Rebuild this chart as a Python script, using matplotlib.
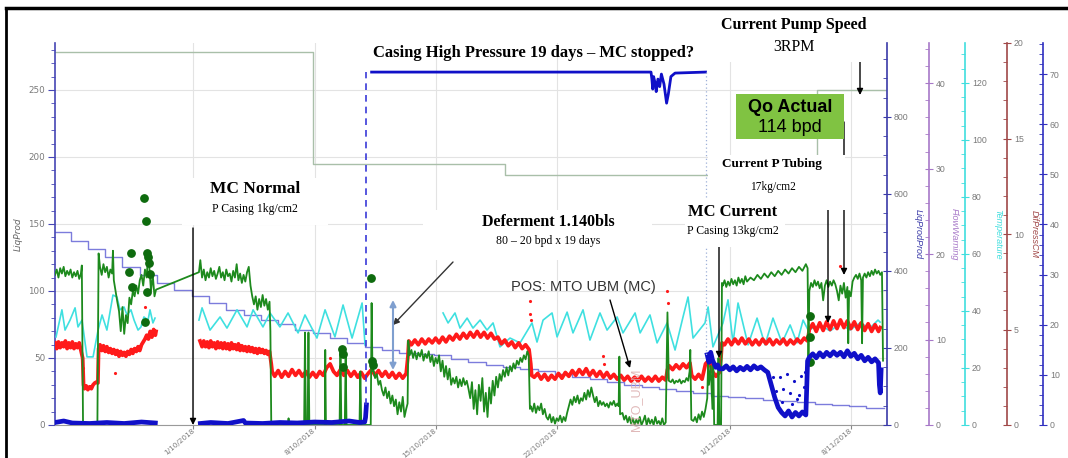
import matplotlib
matplotlib.use("Agg")
import matplotlib.pyplot as plt
from matplotlib.lines import Line2D
from matplotlib.patches import Rectangle
from matplotlib.ticker import MultipleLocator
import numpy as np
import pandas as pd

# ---- data (x = days since 23/9/2018) ----
START = pd.Timestamp("2018-09-23")
tick_dates = ["2018-10-01", "2018-10-08", "2018-10-15", "2018-10-22", "2018-11-01", "2018-11-08"]
tick_labels = ["1/10/2018", "8/10/2018", "15/10/2018", "22/10/2018", "1/11/2018", "8/11/2018"]

# LiqProd (left axis) - green
green = [(0.0,112),(0.1,116),(0.2,110),(0.3,117),(0.4,113),(0.5,118),(0.6,111),(0.7,115),(0.8,112),(0.9,116),
         (1.0,110),(1.1,114),(1.2,111),(1.3,115),(1.4,109),(1.5,113),(1.55,119),(1.62,1),(1.7,0),(2.0,0.5),(2.45,0),
         (2.52,128),(2.6,118),(2.7,112),(2.8,120),(2.9,114),(3.0,118),(3.1,110),(3.2,116),(3.3,113),(3.35,130),
         (3.4,108),(3.5,100),(3.6,92),(3.7,85),(3.8,70),(3.9,88),(4.0,68),(4.1,82),(4.2,76),(4.3,95),(4.4,90),
         (4.5,100),(4.6,96),(4.7,104),(4.8,98),(4.9,108),(5.0,112),(5.1,104),(5.2,116),(5.3,110),(5.38,128),
         (5.45,118),(5.55,100),(5.65,112),(5.75,96),(5.84,101),
         (8.32,114),(8.4,123),(8.5,110),(8.6,116),(8.7,108),(8.8,114),(8.9,110),(9.0,117),(9.1,111),(9.2,115),
         (9.3,109),(9.4,113),(9.5,118),(9.6,110),(9.7,114),(9.8,108),(9.9,116),(10.0,111),(10.1,113),(10.2,107),
         (10.3,115),(10.4,110),(10.5,120),(10.6,108),(10.7,113),(10.8,106),(10.9,112),(11.0,107),(11.1,114),
         (11.2,118),(11.3,104),(11.4,96),(11.5,90),(11.6,96),(11.7,86),(11.8,94),(11.9,88),(12.0,97),(12.1,89),
         (12.2,94),(12.3,86),(12.4,92),(12.45,70),(12.5,1),(12.8,0),(13.0,0.5),(13.45,0),(13.5,5),(13.55,0),
         (14.4,0),(14.45,69),(14.5,0),(14.6,0),(14.65,69),(14.7,0),(15.6,0),(15.62,56),(15.66,0),(16.45,0),
         (16.5,58),(16.55,0),(16.75,0),(16.8,52),(16.85,0),(17.6,0),(17.65,40),(17.7,0),(18.25,0),(18.3,91),
         (18.35,40),(18.4,41),(18.5,35),(18.6,38),(18.7,30),(18.8,33),(18.9,26),(19.0,22),(19.1,28),(19.2,20),
         (19.3,25),(19.4,16),(19.5,22),(19.6,14),(19.7,19),(19.8,8),(19.9,17),(20.0,10),(20.1,21),(20.2,6),
         (20.3,12),(20.38,16),(20.42,63),(20.5,52),(20.6,56),(20.7,50),(20.8,55),(20.9,49),(21.0,54),(21.1,51),
         (21.2,56),(21.3,48),(21.4,53),(21.5,50),(21.6,55),(21.7,47),(21.8,52),(21.9,44),(22.0,50),(22.1,46),
         (22.2,52),(22.3,40),(22.4,48),(22.5,36),(22.6,44),(22.7,34),(22.8,42),(22.9,30),(23.0,35),(23.1,31),
         (23.2,36),(23.3,28),(23.4,34),(23.5,29),(23.6,35),(23.7,30),(23.8,33),(23.9,27),(24.0,20),(24.1,32),
         (24.2,12),(24.3,26),(24.4,8),(24.5,30),(24.6,18),(24.7,35),(24.8,10),(24.9,24),(25.0,6),(25.1,28),
         (25.2,16),(25.3,33),(25.4,22),(25.5,36),(25.6,28),(25.7,38),(25.8,33),(25.9,41),(26.0,36),(26.1,43),
         (26.2,37),(26.3,44),(26.4,40),(26.5,46),(26.6,42),(26.7,48),(26.8,45),(26.9,50),(27.0,47),(27.1,52),
         (27.2,49),(27.3,55),(27.38,52),(27.45,12),(27.5,14),(27.6,10),(27.7,16),(27.8,9),(27.9,14),(28.0,11),
         (28.1,16),(28.2,8),(28.3,12),(28.4,6),(28.5,4),(28.6,8),(28.7,2),(28.8,6),(28.9,1),(29.0,5),(29.1,3),
         (29.2,7),(29.3,2),(29.4,6),(29.5,3),(29.6,9),(29.7,14),(29.8,19),(29.9,15),(30.0,21),(30.1,17),(30.2,22),
         (30.3,16),(30.4,20),(30.5,18),(30.6,24),(30.7,19),(30.8,26),(30.9,21),(31.0,28),(31.1,22),(31.2,17),
         (31.3,21),(31.4,14),(31.5,18),(31.6,15),(31.7,17),(31.8,14),(31.9,16),(32.0,13),(32.1,17),(32.2,15),
         (32.3,18),(32.4,14),(32.5,16),(32.58,14),(32.62,51),(32.66,8),(32.8,9),(32.9,4),(33.0,7),(33.1,2),
         (33.2,6),(33.3,1),(33.4,5),(33.5,0),(33.6,4),(33.7,1),(33.8,6),(33.9,0),(34.0,3),(34.1,7),(34.2,0),
         (34.3,5),(34.4,1),(34.5,4),(34.6,0),(34.7,6),(34.8,1),(34.9,3),(35.0,0),(35.1,5),(35.2,0),(35.3,2),
         (35.4,84),(35.48,33),(35.6,32),(35.7,34),(35.8,31),(35.9,33),(36.0,32),(36.1,34),(36.2,31),(36.3,33),
         (36.4,32),(36.5,35),(36.6,33),(36.68,40),(36.72,56),(36.78,4),(36.9,3),(37.0,6),(37.1,2),(37.2,8),
         (37.3,4),(37.4,10),(37.5,6),(37.6,12),(37.7,20),(37.75,46),(37.8,30),(37.9,44),(38.0,12),(38.05,48),
         (38.1,0),(38.3,0),(38.35,50),(38.4,0),(38.5,0),(38.55,106),(38.6,104),(38.7,108),(38.8,103),(38.9,107),
         (39.0,104),(39.1,109),(39.2,105),(39.3,108),(39.4,104),(39.5,110),(39.6,106),(39.7,109),(39.8,105),
         (39.9,111),(40.0,107),(40.2,110),(40.4,108),(40.6,112),(40.8,109),(41.0,113),(41.2,110),(41.4,114),
         (41.6,111),(41.8,115),(42.0,112),(42.2,116),(42.4,113),(42.6,117),(42.8,114),(43.0,118),(43.2,115),
         (43.4,120),(43.5,117),(43.55,51),(43.6,100),(43.7,106),(43.8,103),(43.9,108),(44.0,104),(44.1,107),
         (44.2,102),(44.3,106),(44.4,93),(44.5,104),(44.6,108),(44.7,103),(44.8,107),(44.9,104),(45.0,108),
         (45.1,105),(45.2,100),(45.3,93),(45.4,104),(45.5,98),(45.6,106),(45.7,95),(45.8,103),(45.85,61),
         (45.9,100),(46.0,96),(46.1,107),(46.2,110),(46.3,112),(46.4,109),(46.5,113),(46.6,108),(46.65,61),
         (46.7,110),(46.8,113),(46.9,110),(47.0,114),(47.1,111),(47.2,115),(47.3,112),(47.4,116),(47.5,113),
         (47.6,115),(47.7,112),(47.8,114),(47.86,48)]

green_dots = [(5.14,169),(5.26,152),(4.39,128),(5.32,128),(4.28,114),(5.38,125),(5.43,121),(5.49,113),
              (4.45,103),(5.32,99),(5.2,77),(18.27,110),(16.59,57),(16.65,53),(16.65,43),(18.32,48),
              (18.38,45),(43.64,81),(43.64,66),(43.64,47)]

# top grey-green step (left axis)
upper_step_days = [0, 14.9, 26.0, 44.05, 48.1]
upper_step_vals = [278, 195, 186.6, 250, 250]

# descending lavender step, one value per day (left axis)
lavender_vals = [144, 137, 131, 125, 118, 112, 106, 101, 96, 91, 86, 82, 78, 75, 71, 69, 65, 61, 58, 56,
                 54, 53, 52, 49, 47, 45, 43, 42, 40, 38, 36, 34, 32, 30, 28, 27, 25, 24, 22, 21, 20, 19,
                 18, 17, 16, 15, 14, 13, 13]

# Temperature - cyan
temp = [(0.06,30.9),(0.4,40.4),(0.58,33.3),(0.87,36.8),(1.16,41.1),(1.33,34.4),(1.56,36.8),(1.85,23.9),
        (2.2,23.9),(2.49,33.3),(2.72,38.6),(3.0,33.3),(3.35,45.6),(3.58,44.9),(3.76,40.4),(3.99,41.4),
        (4.16,38.6),(4.39,40.4),(4.57,36.8),(4.8,33.3),(4.97,34.4),(5.14,37.9),(5.38,36.8),(5.49,40.4),
        (5.66,35.8),(5.78,37.5),(6.5,np.nan),
        (8.32,36.8),(8.5,41.1),(8.96,33.3),(9.54,37.9),(9.94,34.0),(10.52,40.4),(11.1,34.4),(11.45,40.4),
        (12.02,34.4),(12.43,39.3),(13.0,34.4),(13.47,39.3),(14.05,32.3),(14.45,38.6),(15.14,30.5),
        (15.61,40.4),(16.18,30.9),(16.65,42.1),(17.17,30.5),(17.75,42.8),(17.92,28.1),(18.5,np.nan),
        (22.43,39.3),(22.72,35.8),(23.12,39.3),(23.41,34.0),(23.82,37.5),(24.16,34.0),(24.57,36.8),
        (24.97,33.3),(25.32,35.8),(25.72,27.4),(26.3,30.5),(26.88,28.8),(27.57,35.8),(27.86,29.1),
        (28.21,36.8),(28.73,39.3),(29.02,30.9),(29.6,39.6),(29.94,32.3),(30.52,40.4),(30.92,29.8),
        (31.5,39.3),(31.91,33.3),(32.49,37.9),(32.83,32.3),(33.53,39.3),(33.82,32.3),(34.39,38.6),
        (34.8,28.8),(35.38,35.8),(35.84,26.3),(36.3,37.9),(36.59,44.9),(36.88,30.5),(37.57,35.8),
        (37.75,41.4),(38.03,27.4),(38.61,35.8),(38.9,43.9),(39.19,28.8),(39.48,42.8),(40.06,28.1),
        (40.58,37.5),(41.04,28.1),(41.5,37.5),(42.02,28.8),(42.49,35.1),(42.89,28.8),(43.24,36.8),
        (43.53,33.3),(44.22,35.1),(44.8,33.0),(45.38,35.5),(45.95,33.3),(46.53,35.8),(47.1,34.0),
        (47.57,36.8),(47.69,36.1)]

# DifPressCM - red
difpress = [(0.0,4.3),(0.1,4.0),(0.2,4.35),(0.3,4.05),(0.4,4.3),(0.5,4.1),(0.6,4.4),(0.7,4.0),(0.8,4.3),
            (0.9,4.05),(1.0,4.35),(1.1,4.0),(1.2,4.25),(1.3,4.05),(1.4,4.3),(1.5,3.9),(1.6,3.5),(1.65,2.1),
            (1.7,1.9),(1.8,2.05),(1.9,1.85),(2.0,2.0),(2.1,1.9),(2.2,2.1),(2.3,2.2),(2.4,2.25),(2.48,2.2),
            (2.52,4.0),(2.6,4.2),(2.7,3.9),(2.8,4.15),(2.9,3.85),(3.0,4.1),(3.1,3.8),(3.2,4.0),(3.3,3.75),
            (3.4,3.95),(3.5,3.7),(3.6,3.9),(3.7,3.6),(3.8,3.85),(3.9,3.65),(4.0,3.8),(4.1,3.6),(4.2,3.85),
            (4.3,3.7),(4.4,3.95),(4.5,3.75),(4.6,4.0),(4.7,3.85),(4.8,4.1),(4.9,3.9),(5.0,4.2),(5.1,4.35),
            (5.2,4.5),(5.3,4.7),(5.4,4.5),(5.5,4.9),(5.6,4.6),(5.7,5.0),(5.8,4.7),(5.84,4.9),(6.5,np.nan),
            (8.38,4.4),(8.5,4.1),(8.6,4.4),(8.7,4.1),(8.8,4.35),(8.9,4.05),(9.0,4.4),(9.1,4.1),(9.2,4.3),
            (9.3,4.0),(9.4,4.35),(9.5,4.05),(9.6,4.3),(9.7,4.0),(9.8,4.3),(9.9,4.0),(10.0,4.25),(10.1,3.95),
            (10.2,4.3),(10.3,4.0),(10.4,4.2),(10.5,3.95),(10.6,4.25),(10.7,3.9),(10.8,4.15),(10.9,3.9),
            (11.0,4.1),(11.1,3.85),(11.2,4.1),(11.3,3.85),(11.4,4.05),(11.5,3.8),(11.6,4.0),(11.7,3.75),
            (11.8,4.0),(11.9,3.8),(12.0,3.95),(12.1,3.75),(12.2,3.9),(12.3,3.7),(12.4,3.85),(12.5,3.2),
            (12.55,2.8),(12.7,2.55),(12.9,2.85),(13.1,2.5),(13.3,2.8),(13.5,2.55),(13.7,2.9),(13.9,2.6),
            (14.1,2.85),(14.3,2.55),(14.5,2.8),(14.7,2.5),(14.9,2.75),(15.1,2.5),(15.3,2.8),(15.5,2.6),
            (15.7,3.0),(15.9,3.2),(16.1,2.8),(16.3,2.6),(16.5,2.9),(16.7,2.6),(16.9,2.85),(17.1,2.55),
            (17.3,2.8),(17.5,2.5),(17.7,2.75),(17.9,2.45),(18.1,2.7),(18.3,2.9),(18.5,2.6),(18.7,2.85),
            (18.9,2.55),(19.1,2.8),(19.3,2.5),(19.5,2.75),(19.7,2.45),(19.9,2.7),(20.1,2.45),(20.3,2.7),
            (20.4,3.6),(20.45,4.4),(20.6,4.2),(20.8,4.45),(21.0,4.2),(21.2,4.5),(21.4,4.25),(21.6,4.5),
            (21.8,4.3),(22.0,4.55),(22.2,4.3),(22.4,4.6),(22.6,4.35),(22.8,4.65),(23.0,4.45),(23.2,4.75),
            (23.4,4.5),(23.6,4.8),(23.8,4.55),(24.0,4.85),(24.2,4.6),(24.4,4.9),(24.6,4.6),(24.8,4.85),
            (25.0,4.55),(25.2,4.8),(25.4,4.5),(25.6,4.6),(25.8,4.25),(26.0,4.45),(26.2,4.15),(26.4,4.35),
            (26.6,4.05),(26.8,4.3),(27.0,4.0),(27.2,4.2),(27.4,3.95),(27.5,3.2),(27.55,2.6),(27.7,2.5),
            (27.9,2.7),(28.1,2.4),(28.3,2.65),(28.5,2.35),(28.7,2.6),(28.9,2.4),(29.1,2.7),(29.3,2.45),
            (29.5,2.75),(29.7,2.55),(29.9,2.85),(30.1,2.6),(30.3,2.9),(30.5,2.65),(30.7,2.95),(30.9,2.6),
            (31.1,2.85),(31.3,2.55),(31.5,2.8),(31.7,2.5),(31.9,2.75),(32.1,2.45),(32.3,2.65),(32.5,2.4),
            (32.7,2.6),(32.9,2.35),(33.1,2.55),(33.3,2.3),(33.5,2.5),(33.7,2.3),(33.9,2.55),(34.1,2.3),
            (34.3,2.5),(34.5,2.3),(34.7,2.55),(34.9,2.3),(35.1,2.5),(35.3,2.35),(35.4,2.9),(35.5,3.1),
            (35.7,2.9),(35.9,3.15),(36.1,2.95),(36.3,3.2),(36.5,3.0),(36.7,3.25),(36.8,2.6),(37.0,2.4),
            (37.2,2.65),(37.4,2.4),(37.6,3.2),(37.8,3.4),(38.0,2.8),(38.2,2.55),(38.4,2.75),(38.5,3.6),
            (38.55,4.3),(38.7,4.2),(38.9,4.5),(39.1,4.2),(39.3,4.5),(39.5,4.25),(39.7,4.55),(39.9,4.25),
            (40.1,4.5),(40.3,4.2),(40.5,4.45),(40.7,4.2),(40.9,4.5),(41.1,4.25),(41.3,4.5),(41.5,4.2),
            (41.7,4.45),(41.9,4.25),(42.1,4.5),(42.3,4.2),(42.5,4.45),(42.7,4.25),(42.9,4.5),(43.1,4.3),
            (43.3,4.55),(43.5,4.4),(43.6,5.0),(43.8,5.3),(44.0,4.9),(44.2,5.35),(44.4,4.95),(44.6,5.4),
            (44.8,5.0),(45.0,5.45),(45.2,5.05),(45.4,5.5),(45.6,5.1),(45.8,5.45),(46.0,5.05),(46.2,5.4),
            (46.4,5.0),(46.6,5.35),(46.8,4.95),(47.0,5.3),(47.2,4.9),(47.4,5.25),(47.6,4.9),(47.7,5.1)]
difpress_outliers = [(27.46,6.5),(27.46,5.8),(27.5,5.5),(35.4,7.0),(35.42,6.4),(31.7,3.6),(31.72,3.2),
                     (37.4,2.0),(3.47,2.7),(1.6,3.0),(5.2,6.2),(45.4,8.3),(15.9,3.5)]

# Pressure (casing) - blue
pressure = [(0.0,0.5),(0.5,0.8),(1.0,0.4),(2.0,0.3),(3.0,0.5),(4.0,0.3),(5.0,0.6),(5.8,0.4),(6.5,np.nan),
            (8.4,0.3),(9.0,0.5),(10.0,0.3),(10.9,0.9),(11.0,0.4),(12.0,0.3),(13.0,0.5),(14.0,0.4),(15.0,0.6),
            (16.0,0.5),(17.0,0.8),(17.6,0.5),(17.9,0.6),(17.95,1.5),(18.0,4.0),(18.1,np.nan),
            (18.3,70.4),(34.45,70.4),(34.5,69.0),(34.55,67.0),(34.6,69.5),(34.7,68.0),(34.75,66.5),(34.85,69.0),
            (34.95,67.5),(35.05,70.0),(35.2,68.0),(35.35,64.2),(35.45,66.0),(35.6,69.5),(35.84,70.2),
            (37.6,70.4),(37.65,np.nan),
            (37.7,14.0),(37.8,12.5),(37.9,14.5),(38.0,13.0),(38.1,12.2),(38.2,11.5),(38.3,12.0),(38.4,11.2),
            (38.6,11.2),(38.8,11.8),(39.0,11.0),(39.2,11.6),(39.4,10.8),(39.6,11.5),(39.8,11.0),(40.0,11.7),
            (40.2,11.0),(40.4,11.8),(40.6,11.2),(40.8,11.6),(41.0,11.0),(41.2,10.5),(41.4,8.0),(41.6,5.5),
            (41.8,3.5),(42.0,2.5),(42.2,1.8),(42.4,2.8),(42.6,1.6),(42.8,2.5),(43.0,1.8),(43.2,2.6),(43.4,2.0),
            (43.5,12.8),(43.6,13.5),(43.8,14.2),(44.0,13.4),(44.2,14.4),(44.4,13.6),(44.6,14.5),(44.8,13.8),
            (45.0,14.6),(45.2,13.9),(45.4,14.5),(45.6,13.6),(45.8,14.8),(46.0,13.7),(46.2,14.3),(46.4,13.2),
            (46.6,13.9),(46.8,12.8),(47.0,13.5),(47.2,12.6),(47.4,13.2),(47.6,12.4),(47.65,8.0),(47.7,6.4),
            (47.75,11.0)]
pressure_scatter = [(41.5,9.5),(41.7,6.8),(41.9,9.5),(42.0,4.6),(42.1,7.2),(42.3,10.1),(42.5,6.3),
                    (42.6,4.2),(42.7,8.8),(42.9,5.1),(43.0,6.0),(43.1,9.8),(43.3,7.5),(43.35,10.5)]
casing_rise = [(17.98, 4.0), (17.98, 70.4)]
casing_drop = [(37.62, 70.4), (37.62, 14.0)]


def dates(days):
    return START + pd.to_timedelta(np.asarray(days, dtype=float), unit="D")


def split(pts):
    d, v = zip(*pts)
    return dates(d), np.asarray(v, dtype=float)


W, H = 1068, 458
fig = plt.figure(figsize=(W / 100, H / 100), dpi=100)
ax = fig.add_axes([55 / W, 33 / H, 832 / W, 382 / H])

plt.rcParams["font.family"] = ["Liberation Sans", "DejaVu Sans"]
SERIF = ["Liberation Serif", "DejaVu Serif"]
GREY = "#7a7a7a"

# left axis
ax.set_ylim(0, 285)
ax.set_xlim(START, START + pd.Timedelta(days=48.09))
ax.yaxis.set_major_locator(MultipleLocator(50))
ax.yaxis.set_minor_locator(MultipleLocator(10))
ax.tick_params(axis="y", which="major", colors="#4646b4", labelcolor=GREY, labelsize=6.3, length=5, pad=2)
ax.tick_params(axis="y", which="minor", colors="#4646b4", length=3)
ax.set_xticks(pd.to_datetime(tick_dates))
ax.set_xticklabels(tick_labels)
ax.tick_params(axis="x", colors="#888888", labelcolor=GREY, labelsize=5.2, length=3, pad=0.5)
plt.setp(ax.get_xticklabels(), rotation=40, ha="right", va="center", rotation_mode="anchor")
ax.grid(True, color="#e3e3e3", lw=0.8)
for s in ("top", "right"):
    ax.spines[s].set_visible(False)
ax.spines["left"].set_color("#4646b4")
ax.spines["left"].set_linewidth(1.2)
ax.spines["bottom"].set_color("#9a9a9a")
ax.set_ylabel("LiqProd", style="italic", color="#666666", fontsize=6.5)
ax.yaxis.set_label_coords(-0.0385, 0.5)
ax.set_zorder(0)


def side_axis(pos, color, top, major, minor, label, lab_x, z):
    a = ax.twinx()
    a.set_ylim(0, top)
    a.spines["right"].set_position(("axes", pos))
    for s in ("left", "top", "bottom"):
        a.spines[s].set_visible(False)
    a.spines["right"].set_color(color)
    a.spines["right"].set_linewidth(1.2)
    a.yaxis.set_major_locator(MultipleLocator(major))
    a.yaxis.set_minor_locator(MultipleLocator(minor))
    a.tick_params(axis="y", which="major", colors=color, labelcolor=GREY, labelsize=6.3,
                  length=6, pad=2, direction="inout")
    a.tick_params(axis="y", which="minor", colors=color, length=3, direction="in")
    a.set_ylabel(label, color=color, style="italic", fontsize=6.5, rotation=270)
    a.yaxis.set_label_coords(lab_x, 0.5)
    a.yaxis.label.set_va("center")
    a.yaxis.label.set_ha("center")
    a.set_zorder(z)
    return a


ax_lp = side_axis(1.0, "#3a3aa8", 992, 200, 50, "LiqProdProd", 1.0373, 1)
ax_fw = side_axis(1.0505, "#a778c8", 44.7, 10, 2, "FlowWarning", 1.0805, 1)
ax_t = side_axis(1.0938, "#3fdede", 134, 20, 5, "Temperature", 1.1334, 2)
ax_d = side_axis(1.1442, "#a04848", 20, 5, 1, "DifPressCM", 1.1767, 3)
ax_p = side_axis(1.1875, "#3030c0", 76.2, 10, 2, "Pressure", 1.2200, 6)

ax_g = ax.twinx()
ax_g.set_ylim(0, 285)
ax_g.axis("off")
ax_g.set_zorder(4)

# steps on left axis
step_x = dates(upper_step_days)
ax.step(step_x, upper_step_vals, where="post", color="#a9bfa9", lw=1.0)
lav_x = dates(np.arange(len(lavender_vals)) - 0.1)
ax.step(lav_x, lavender_vals, where="post", color="#7c7cdc", lw=1.0)

# temperature
tx, tv = split(temp)
ax_t.plot(tx, tv, color="#3fe0e0", lw=1.2)

# difpress
rx, rv = split(difpress)
ax_d.plot(rx, rv, color="#ff1a1a", lw=2.7)
ox, ov = split(difpress_outliers)
ax_d.plot(ox, ov, ".", color="#ff1a1a", ms=2.5)

# green LiqProd
gx, gv = split(green)
ax_g.plot(gx, gv, color="#1d8a1d", lw=1.3)
dx, dv = split(green_dots)
ax_g.scatter(dx, dv, s=28, color="#0e6b0e", zorder=5)

# pressure: thin line on the high plateau, thicker dotted band when low
px_, pv = split(pressure)
ax_p.plot(px_, pv, color="#1010c8", lw=2.0)
ax_p.plot(px_, np.where(pv < 30, pv, np.nan), color="#1010c8", lw=3.4)
sx, sv = split(pressure_scatter)
ax_p.plot(sx, sv, ".", color="#1010c8", ms=2.5)
cx, cv = split(casing_rise)
ax_p.plot(cx, cv, color="#3a3ad8", lw=1.2, ls=(0, (4, 3)))
cx, cv = split(casing_drop)
ax_p.plot(cx, cv, color="#9fb0d8", lw=0.9, ls=(0, (1, 2)))


# ---- annotations in figure pixels (y from top) ----
def fp(x, y):
    return (x / W, 1 - y / H)


def white_box(x0, y0, x1, y1, color="white"):
    fig.add_artist(Rectangle(fp(x0, y1), (x1 - x0) / W, (y1 - y0) / H, transform=fig.transFigure,
                             facecolor=color, edgecolor="none", zorder=10))


def note(x, y, s, size, bold=False, family=SERIF, color="black"):
    fig.text(*fp(x, y), s, ha="center", va="center", fontsize=size, family=family,
             fontweight="bold" if bold else "normal", color=color, zorder=11)


def arrow(x0, y0, x1, y1, color="black", style="-|>", lw=1.0):
    ax_p.annotate("", xy=fp(x1, y1), xytext=fp(x0, y0), xycoords="figure fraction",
                  textcoords="figure fraction", zorder=12,
                  arrowprops=dict(arrowstyle=style, color=color, lw=lw, mutation_scale=9,
                                  shrinkA=0, shrinkB=0))


white_box(182, 178, 328, 225)
white_box(423, 210, 652, 260)
white_box(685, 198, 785, 247)
white_box(708, 155, 845, 210)
white_box(705, 43, 880, 62)
white_box(736, 94, 844, 139, color="#80c342")

note(255, 189, "MC Normal", 12.5, bold=True)
note(255, 209, "P Casing 1kg/cm2", 8.5)
note(534, 53, "Casing High Pressure 19 days \u2013 MC stopped?", 12, bold=True)
note(548, 222, "Deferment 1.140bls", 11.5, bold=True)
note(548, 241, "80 \u2013 20 bpd x 19 days", 8.5)
note(583, 287, "POS: MTO UBM (MC)", 10.5, family=["Liberation Sans", "DejaVu Sans"], color="#333333")
note(733, 212, "MC Current", 12, bold=True)
note(733, 231, "P Casing 13kg/cm2", 8.5)
note(772, 164, "Current P Tubing", 9.5, bold=True)
note(773, 187, "17kg/cm2", 8.3)
note(794, 25, "Current Pump Speed", 11.5, bold=True)
note(794, 47, "3RPM", 11.5)
note(790, 108, "Qo Actual", 13, bold=True, family=["Liberation Sans", "DejaVu Sans"])
note(790, 127, "114 bpd", 13, family=["Liberation Sans", "DejaVu Sans"])
fig.text(*fp(636, 400), "MTO_UBM", rotation=90, ha="center", va="center", fontsize=9,
         color="#d9a7a7", alpha=0.8, zorder=9)

arrow(193, 228, 193, 425)
arrow(453, 262, 393, 325, color="#333333")
arrow(393, 300, 393, 370, color="#7f9fcf", style="<|-|>", lw=1.5)
arrow(610, 300, 630, 368)
arrow(719, 247, 719, 358)
arrow(828, 202, 828, 323)
arrow(844, 122, 844, 275)
arrow(860, 62, 860, 95)

# outer frame lines
fig.add_artist(Line2D([6 / W, 1], [1 - 8 / H, 1 - 8 / H], color="black", lw=2.5, transform=fig.transFigure))
fig.add_artist(Line2D([6 / W, 6 / W], [0, 1 - 8 / H], color="black", lw=2.0, transform=fig.transFigure))

fig.savefig("out.png", dpi=100)
